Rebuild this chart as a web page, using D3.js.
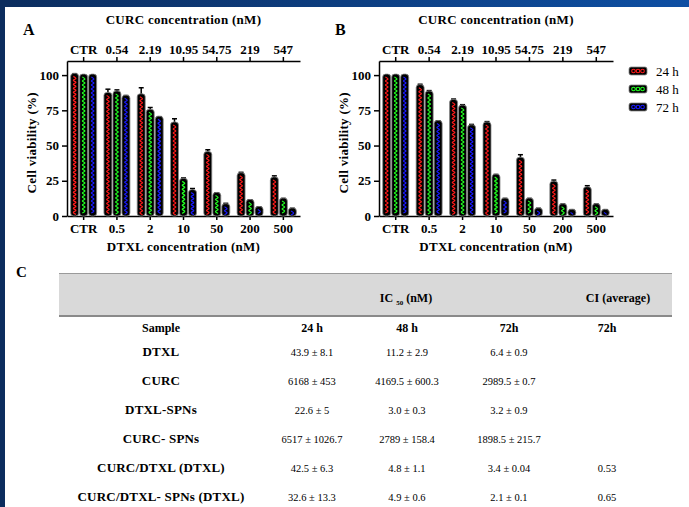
<!DOCTYPE html>
<html lang="en">
  <head>
    <meta charset="UTF-8" />
    <title>Cell viability</title>
    <script src="https://d3js.org/d3.v7.min.js"></script>
    <style>
      body { margin: 0; background: #fff; }
      svg text { font-family: "Liberation Serif", "DejaVu Serif", serif !important; fill: #000; }
      .tick text { font-weight: bold; font-size: 13px; }
      .axis path, .axis line { stroke: #000; stroke-width: 1.5; }
      .lbl { font-weight: bold; font-size: 13px; letter-spacing: 0.3px; }
      .tb { font-size: 12px; font-weight: bold; }
      .tr { font-size: 13px; font-weight: bold; letter-spacing: 0.2px; }
      .tv { font-size: 10.5px; }
    </style>
  </head>
  <body>
    <script>
      const width = 689, height = 507;

      // data
      const dtxlTicks = ["CTR", "0.5", "2", "10", "50", "200", "500"];
      const curcTicks = ["CTR", "0.54", "2.19", "10.95", "54.75", "219", "547"];
      const seriesNames = ["24 h", "48 h", "72 h"];
      const seriesColors = ["#ff1a1a", "#22ff22", "#1a1aff"];

      const a24 = [100.5, 87, 86, 66, 45, 30, 27];
      const a48 = [100, 88, 75, 26, 16, 11, 12];
      const a72 = [100, 85, 70, 18, 8, 6, 5];
      const a24err = [0.5, 3, 5, 3, 2, 1, 1.5];
      const a48err = [0, 1.5, 2, 1, 0.5, 0.5, 0.5];
      const a72err = [0, 0.5, 0.5, 1.5, 1, 0.5, 0.5];

      const b24 = [100, 92.5, 82, 66, 41, 24, 20];
      const b48 = [100, 88, 78, 29, 12, 8, 8];
      const b72 = [100, 67, 64, 12, 5, 4, 4];
      const b24err = [0, 1, 1, 1, 2.5, 1.5, 1.5];
      const b48err = [0, 1, 1, 0.5, 0.5, 0.5, 0.5];
      const b72err = [0, 0.5, 1, 0.5, 0.5, 0.5, 0.5];

      const tableCols = ["Sample", "24 h", "48 h", "72h", "72h"];
      const tableRows = ["DTXL", "CURC", "DTXL-SPNs", "CURC- SPNs", "CURC/DTXL (DTXL)", "CURC/DTXL- SPNs (DTXL)"];
      const ic24 = ["43.9 ± 8.1", "6168 ± 453", "22.6 ± 5", "6517 ± 1026.7", "42.5 ± 6.3", "32.6 ± 13.3"];
      const ic48 = ["11.2 ± 2.9", "4169.5 ± 600.3", "3.0 ± 0.3", "2789 ± 158.4", "4.8 ± 1.1", "4.9 ± 0.6"];
      const ic72 = ["6.4 ± 0.9", "2989.5 ± 0.7", "3.2 ± 0.9", "1898.5 ± 215.7", "3.4 ± 0.04", "2.1 ± 0.1"];
      const ciAvg = ["", "", "", "", "0.53", "0.65"];

      const svg = d3.select("body").append("svg")
        .attr("width", width).attr("height", height)
        .attr("font-family", "Liberation Serif, serif");

      // slide frame
      const defs = svg.append("defs");
      const grad = defs.append("linearGradient").attr("id", "frame");
      grad.append("stop").attr("offset", "0%").attr("stop-color", "#0c2d5e");
      grad.append("stop").attr("offset", "100%").attr("stop-color", "#0e4fa3");
      svg.append("rect").attr("x", 0).attr("y", 0).attr("width", width).attr("height", 7).attr("fill", "url(#frame)");
      svg.append("rect").attr("x", 0).attr("y", 0).attr("width", 5).attr("height", height).attr("fill", "#0c2d5e");

      const y = d3.scaleLinear().domain([0, 110]).range([216, 61]);

      function wave(cx, top, bottom) {
        const pts = [];
        let k = 0;
        for (let yy = top; yy <= bottom; yy += 2) {
          pts.push([cx + (k % 2 ? 1.3 : -1.3), yy]);
          k++;
        }
        return d3.line().curve(d3.curveCardinal)(pts);
      }

      function drawPanel(x0, x1, letter, data, errs, legend) {
        const g = svg.append("g");
        const x = d3.scaleBand().domain(dtxlTicks).range([x0, x1]);
        const xs = d3.scaleBand().domain([0, 1, 2]).range([-13.5, 13.5]);

        g.append("g").attr("class", "axis")
          .attr("transform", "translate(" + x0 + ",0)")
          .call(d3.axisLeft(y).tickValues([0, 25, 50, 75, 100]).tickSizeInner(5).tickSizeOuter(0));

        g.append("g").attr("class", "axis")
          .attr("transform", "translate(0,216)")
          .call(d3.axisBottom(x).tickSizeInner(4).tickSizeOuter(0).tickPadding(4));

        g.append("g").attr("class", "axis")
          .attr("transform", "translate(0,61)")
          .call(d3.axisTop(x).tickSizeInner(4).tickSizeOuter(0).tickPadding(3)
            .tickFormat((d, i) => curcTicks[i]));

        g.selectAll(".axis").attr("font-family", null);

        data.forEach(function (vals, s) {
          vals.forEach(function (v, i) {
            const cx = x(dtxlTicks[i]) + x.bandwidth() / 2 + xs(s) + xs.bandwidth() / 2;
            const e = errs[s][i];
            if (e > 0) {
              g.append("line").attr("x1", cx).attr("x2", cx)
                .attr("y1", y(v)).attr("y2", y(v + e)).attr("stroke", "#000").attr("stroke-width", 1.5);
              g.append("line").attr("x1", cx - 2.5).attr("x2", cx + 2.5)
                .attr("y1", y(v + e)).attr("y2", y(v + e)).attr("stroke", "#000").attr("stroke-width", 1.5);
            }
            g.append("rect")
              .attr("x", cx - 4).attr("width", 8)
              .attr("y", y(v) - 1).attr("height", y(0) - y(v) + 1)
              .attr("rx", 3)
              .attr("fill", "#000").attr("stroke", "#888").attr("stroke-width", 0.8);
            if (y(0) - y(v) > 4) {
              g.append("path").attr("d", wave(cx, y(v) + 2, y(0) - 1))
                .attr("fill", "none").attr("stroke", seriesColors[s]).attr("stroke-width", 1.2);
            }
          });
        });

        svg.append("text").attr("x", x0 - 44).attr("y", 35)
          .style("font-weight", "bold").style("font-size", "16px").text(letter);
        svg.append("text").attr("class", "lbl").attr("x", (x0 + x1) / 2).attr("y", 24)
          .attr("text-anchor", "middle").text("CURC concentration (nM)");
        svg.append("text").attr("class", "lbl").attr("x", (x0 + x1) / 2).attr("y", 251)
          .attr("text-anchor", "middle").text("DTXL concentration (nM)");
        svg.append("text").attr("class", "lbl")
          .attr("transform", "translate(" + (x0 - 31) + "," + y(52) + ") rotate(-90)")
          .attr("text-anchor", "middle").text("Cell viability (%)");

        if (legend) {
          const lg = svg.append("g");
          seriesNames.forEach(function (n, s) {
            const ly = 71 + s * 18;
            lg.append("rect").attr("x", 629).attr("y", ly - 4).attr("width", 18).attr("height", 8)
              .attr("rx", 2).attr("fill", "#000").attr("stroke", "#888").attr("stroke-width", 0.8);
            [633.5, 638, 642.5].forEach(function (cx) {
              lg.append("circle").attr("cx", cx).attr("cy", ly).attr("r", 1.8)
                .attr("fill", "none").attr("stroke", seriesColors[s]).attr("stroke-width", 1.1);
            });
            lg.append("text").attr("x", 656).attr("y", ly + 4.5)
              .style("font-size", "13px").text(n);
          });
        }
      }

      drawPanel(67, 300, "A", [a24, a48, a72], [a24err, a48err, a72err], false);
      drawPanel(379, 613, "B", [b24, b48, b72], [b24err, b48err, b72err], true);

      // table C
      svg.append("text").attr("x", 16).attr("y", 277)
        .style("font-weight", "bold").style("font-size", "15px").text("C");

      svg.append("rect").attr("x", 59).attr("y", 273).attr("width", 613).attr("height", 43).attr("fill", "#d9d9d9");
      svg.append("line").attr("x1", 59).attr("x2", 672).attr("y1", 273.5).attr("y2", 273.5)
        .attr("stroke", "#9a9a9a").attr("stroke-width", 1.2);
      svg.append("line").attr("x1", 59).attr("x2", 672).attr("y1", 316).attr("y2", 316)
        .attr("stroke", "#8a8a8a").attr("stroke-width", 2);

      const ic = svg.append("text").attr("class", "tb").attr("x", 406).attr("y", 302).attr("text-anchor", "middle");
      ic.append("tspan").text("IC ");
      ic.append("tspan").style("font-size", "7px").attr("dy", 3).text("50");
      ic.append("tspan").attr("dy", -3).text(" (nM)");
      svg.append("text").attr("class", "tb").attr("x", 618).attr("y", 302)
        .attr("text-anchor", "middle").text("CI (average)");

      const colX = d3.scaleOrdinal().domain(d3.range(5)).range([161, 312, 407, 509, 607]);
      const rowY = d3.scalePoint().domain(tableRows).range([356, 501]);

      tableCols.forEach(function (c, i) {
        svg.append("text").attr("class", "tb").attr("x", colX(i)).attr("y", 332)
          .attr("text-anchor", "middle").text(c);
      });

      const cols = [ic24, ic48, ic72, ciAvg];
      tableRows.forEach(function (r, j) {
        svg.append("text").attr("class", "tr").attr("x", colX(0)).attr("y", rowY(r))
          .attr("text-anchor", "middle").text(r);
        cols.forEach(function (col, k) {
          svg.append("text").attr("class", "tv").attr("x", colX(k + 1)).attr("y", rowY(r))
            .attr("text-anchor", "middle").text(col[j]);
        });
      });
    </script>
  </body>
</html>
